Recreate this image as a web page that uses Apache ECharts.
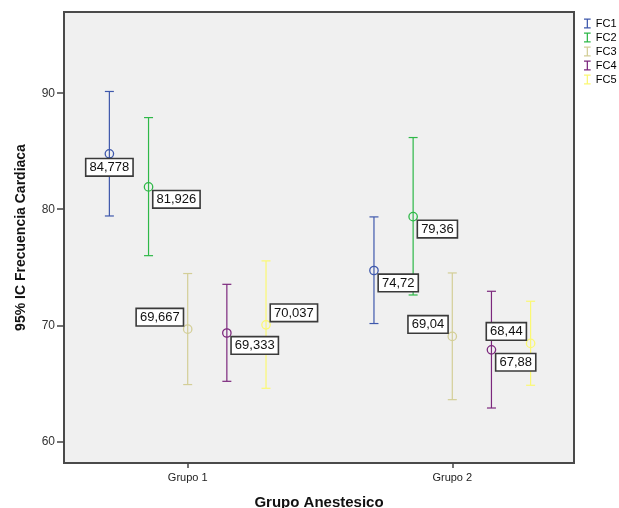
<!DOCTYPE html>
<html>
<head>
<meta charset="utf-8">
<script src="https://cdn.jsdelivr.net/npm/echarts@6/dist/echarts.min.js"></script>
<style>
html,body{margin:0;padding:0;background:#fff;}
#c{width:619px;height:508px;}
</style>
</head>
<body>
<div id="c"></div>
<script>
// ---- data ----
const categories = ['Grupo 1', 'Grupo 2'];
const seriesNames = ['FC1', 'FC2', 'FC3', 'FC4', 'FC5'];
const yTicks = [60, 70, 80, 90];

const meanFC1 = [84.778, 74.72];
const lowFC1  = [79.42, 70.15];
const highFC1 = [90.15, 79.34];

const meanFC2 = [81.926, 79.36];
const lowFC2  = [76.0, 72.61];
const highFC2 = [87.9, 86.18];

const meanFC3 = [69.667, 69.04];
const lowFC3  = [64.89, 63.59];
const highFC3 = [74.46, 74.51];

const meanFC4 = [69.333, 67.88];
const lowFC4  = [65.17, 62.87];
const highFC4 = [73.53, 72.93];

const meanFC5 = [70.037, 68.44];
const lowFC5  = [64.57, 64.83];
const highFC5 = [75.55, 72.07];

const labelTexts = [
  ['84,778', '74,72'],
  ['81,926', '79,36'],
  ['69,667', '69,04'],
  ['69,333', '67,88'],
  ['70,037', '68,44']
];

// ---- styles / layout ----
const colors = ['#3E58AC', '#2EB848', '#D3CE97', '#7C287D', '#FBF873'];
const labelPlacement = [
  ['b', 'rb'],
  ['rb', 'rb'],
  ['lt', 'lt'],
  ['rb', 'rb'],
  ['rt', 'lt']
];
const clusterStep = 0.148;
const FONT = '"Liberation Sans", Arial, sans-serif';

const means = [meanFC1, meanFC2, meanFC3, meanFC4, meanFC5];
const lows = [lowFC1, lowFC2, lowFC3, lowFC4, lowFC5];
const highs = [highFC1, highFC2, highFC3, highFC4, highFC5];

function xPos(groupIdx, seriesIdx) {
  return (groupIdx + 1) + (seriesIdx - 2) * clusterStep;
}

const barSeries = seriesNames.map(function (name, si) {
  const data = categories.map(function (c, gi) {
    return [xPos(gi, si), lows[si][gi], means[si][gi], highs[si][gi]];
  });
  return {
    type: 'custom',
    name: name,
    z: 2,
    itemStyle: { color: colors[si] },
    data: data,
    encode: { x: 0, y: [1, 2, 3] },
    renderItem: function (params, api) {
      const x = api.value(0);
      const pLow = api.coord([x, api.value(1)]);
      const pMean = api.coord([x, api.value(2)]);
      const pHigh = api.coord([x, api.value(3)]);
      const c = colors[si];
      const hw = 4.5;
      const st = { stroke: c, lineWidth: 1.2, fill: null };
      return {
        type: 'group',
        children: [
          { type: 'line', shape: { x1: pHigh[0], y1: pHigh[1], x2: pLow[0], y2: pLow[1] }, style: st },
          { type: 'line', shape: { x1: pHigh[0] - hw, y1: pHigh[1], x2: pHigh[0] + hw, y2: pHigh[1] }, style: st },
          { type: 'line', shape: { x1: pLow[0] - hw, y1: pLow[1], x2: pLow[0] + hw, y2: pLow[1] }, style: st },
          { type: 'circle', shape: { cx: pMean[0], cy: pMean[1], r: 4.2 }, style: { stroke: c, lineWidth: 1.3, fill: 'rgba(0,0,0,0)' } }
        ]
      };
    }
  };
});

const labelData = [];
seriesNames.forEach(function (n, si) {
  categories.forEach(function (c, gi) {
    labelData.push([xPos(gi, si), means[si][gi], si, gi]);
  });
});

const labelSeries = {
  type: 'custom',
  name: 'labels',
  z: 5,
  silent: true,
  data: labelData,
  encode: { x: 0, y: 1 },
  renderItem: function (params, api) {
    const x = api.value(0), y = api.value(1);
    const si = api.value(2), gi = api.value(3);
    const p = api.coord([x, y]);
    const pl = labelPlacement[si][gi];
    let tx, ty, align, va;
    if (pl === 'b') { tx = p[0]; ty = p[1] + 5.5; align = 'center'; va = 'top'; }
    else if (pl === 'rb') { tx = p[0] + 5; ty = p[1] + 4.4; align = 'left'; va = 'top'; }
    else if (pl === 'lt') { tx = p[0] - 5; ty = p[1] - 4; align = 'right'; va = 'bottom'; }
    else { tx = p[0] + 5; ty = p[1] - 4; align = 'left'; va = 'bottom'; }
    return {
      type: 'text',
      style: {
        text: labelTexts[si][gi],
        x: tx, y: ty,
        align: align, verticalAlign: va,
        font: '13px ' + FONT,
        fill: '#111',
        backgroundColor: '#ffffff',
        borderColor: '#3a3a3a',
        borderWidth: 1.6,
        padding: [2, 3, 1, 3]
      }
    };
  }
};

const chart = echarts.init(document.getElementById('c'), null, { renderer: 'canvas' });
chart.setOption({
  animation: false,
  backgroundColor: '#ffffff',
  textStyle: { fontFamily: FONT },
  grid: {
    left: 64, right: 45, top: 12, bottom: 45,
    outerBoundsMode: 'none',
    containLabel: false,
    show: true, backgroundColor: '#f0f0f0', borderColor: '#4a4a4a', borderWidth: 2
  },
  legend: {
    orient: 'vertical',
    left: 579, top: 13,
    itemWidth: 7, itemHeight: 10, itemGap: 3,
    textStyle: { fontSize: 11, color: '#000', fontFamily: FONT },
    data: seriesNames.map(function (n) {
      return { name: n, icon: 'path://M0,0H8V1.5H4.75V10.5H8V12H0V10.5H3.25V1.5H0Z' };
    })
  },
  xAxis: {
    type: 'value',
    min: 0.5325, max: 2.46,
    name: 'Grupo Anestesico',
    nameLocation: 'middle',
    nameGap: 32,
    nameTextStyle: { fontSize: 15, fontWeight: 'bold', color: '#111', fontFamily: FONT },
    axisLine: { show: false },
    splitLine: { show: false },
    axisTick: { show: true, length: 5, customValues: [1, 2], lineStyle: { color: '#444', width: 1.5 } },
    axisLabel: {
      customValues: [1, 2], margin: 9, fontSize: 11, color: '#222', fontFamily: FONT,
      formatter: function (v) { return categories[Math.round(v) - 1] || ''; }
    }
  },
  yAxis: {
    type: 'value',
    min: 58.13, max: 97.0,
    name: '95% IC Frecuencia Cardiaca',
    nameLocation: 'middle',
    nameGap: 36,
    nameRotate: 90,
    nameTextStyle: { fontSize: 14, fontWeight: 'bold', color: '#111', fontFamily: FONT },
    axisLine: { show: false },
    splitLine: { show: false },
    axisTick: { show: true, length: 7, customValues: yTicks, lineStyle: { color: '#444', width: 1.5 } },
    axisLabel: { customValues: yTicks, margin: 9, fontSize: 12, color: '#333', fontFamily: FONT }
  },
  series: barSeries.concat([labelSeries])
});
</script>
</body>
</html>
